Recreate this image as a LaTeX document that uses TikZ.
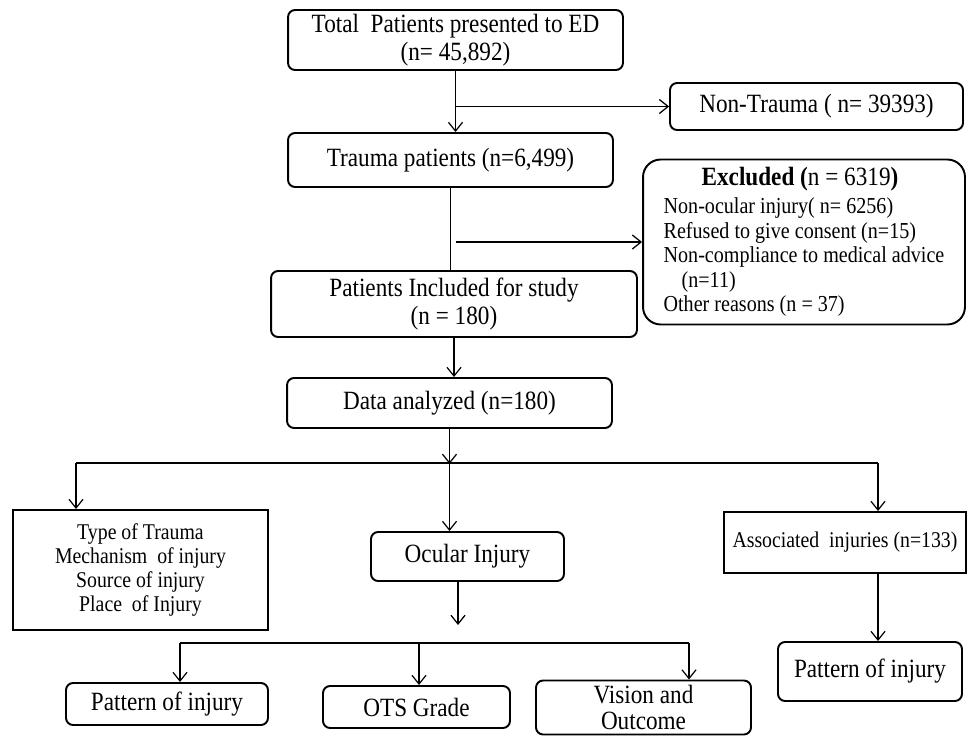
\documentclass[tikz,border=0pt]{standalone}
\usepackage{fontspec}
\setmainfont{Liberation Serif}[FakeStretch=0.88]
\usetikzlibrary{positioning,arrows.meta,calc}

\begin{document}
\begin{tikzpicture}
[x=0.02cm,y=-0.02cm,>={Straight Barb[length=5pt,width=8pt]},
box/.style = {draw, rounded corners=4pt, line width=1.1pt, align=center, inner sep=2pt, font=\fontsize{15}{16}\selectfont},
sqbox/.style = {draw, line width=1.1pt, align=center, inner sep=2pt, font=\fontsize{12.8}{13.7}\selectfont},
link/.style = {line width=0.7pt},]
\useasboundingbox (0,0) rectangle (968,737);
\node (tot) at (455.5,40)[box,minimum width=6.7cm,minimum height=1.2cm] {Total\ \ Patients presented to ED\\(n= 45,892)};
\node (nontr) at (816.5,106.5)[box,minimum width=5.86cm,minimum height=0.94cm] {Non-Trauma ( n= 39393)};
\node (trau) at (450.5,160)[box,minimum width=6.5cm,minimum height=1.08cm] {Trauma patients (n=6,499)};
\node (excl) at (804,242)[box,rounded corners=10pt,minimum width=6.44cm,minimum height=3.3cm,align=left,font=\fontsize{13}{13.9}\selectfont]
 {\hspace*{0.76cm}{\fontsize{15}{14}\selectfont\textbf{Excluded (}n = 6319\textbf{)}}\\[2pt]
  Non-ocular injury( n= 6256)\\
  Refused to give consent (n=15)\\
  Non-compliance to medical advice\\
  \hspace*{0.36cm}(n=11)\\
  Other reasons (n = 37)};
\node (incl) at (454,304)[box,minimum width=7.32cm,minimum height=1.32cm] {Patients Included for study\\(n = 180)};
\node (data) at (449.5,403)[box,minimum width=6.5cm,minimum height=1.0cm] {Data analyzed (n=180)};
\node (facts) at (140.5,570)[sqbox,minimum width=5.1cm,minimum height=2.4cm] {Type of Trauma\\Mechanism\ \ of injury\\Source of injury\\Place\ \ of Injury};
\node (ocul) at (467.5,556.5)[box,minimum width=3.86cm,minimum height=0.98cm] {Ocular Injury};
\node (assoc) at (845,542.5)[sqbox,minimum width=4.84cm,minimum height=1.22cm] {Associated\ \ injuries (n=133)};
\node (patt1) at (167,704)[box,minimum width=4.04cm,minimum height=0.84cm] {Pattern of injury};
\node (ots) at (416.5,707)[box,minimum width=3.74cm,minimum height=0.84cm] {OTS Grade};
\node (vision) at (643.5,707.5)[box,inner sep=1pt,minimum width=4.3cm,minimum height=1.08cm,font=\fontsize{15}{15}\selectfont] {Vision and\\Outcome};
\node (patt2) at (870,671.5)[box,minimum width=3.68cm,minimum height=1.18cm] {Pattern of injury};

\coordinate (b1) at (tot.south |- nontr.west);
\coordinate (b2) at ($(trau.south |- excl.west)+(5,0)$);
\coordinate (b3) at ($(data.south)+(0,35)$);
\coordinate (bl) at (76,463);
\coordinate (br) at (878,463);
\coordinate (b4) at (458,625);
\coordinate (cl) at (180,643);
\coordinate (cm) at (419,643);
\coordinate (cr) at (689,643);

\draw[link,->] (tot.south) -- (tot.south |- trau.north);
\draw[link,->] (b1) -- (nontr.west);
\draw[link] (trau.south) -- (trau.south |- incl.north);
\draw[link,->] (b2) -- (b2 -| excl.west);
\draw[link,->] (incl.south) -- (incl.south |- data.north);
\draw[link,->] (data.south) -- (b3);
\draw[link] (bl) -- (br);
\draw[link,->] (bl) -- (bl |- facts.north);
\draw[link,->] (b3) -- (b3 |- ocul.north);
\draw[link,->] (br) -- (br |- assoc.north);
\draw[link,->] (b4 |- ocul.south) -- (b4);
\draw[link] (cl) -- (cr);
\draw[link,->] (cl) -- (cl |- patt1.north);
\draw[link,->] (cm) -- (cm |- ots.north);
\draw[link,->] (cr) -- (cr |- vision.north);
\draw[link,->] (br |- assoc.south) -- (br |- patt2.north);
\end{tikzpicture}
\end{document}
